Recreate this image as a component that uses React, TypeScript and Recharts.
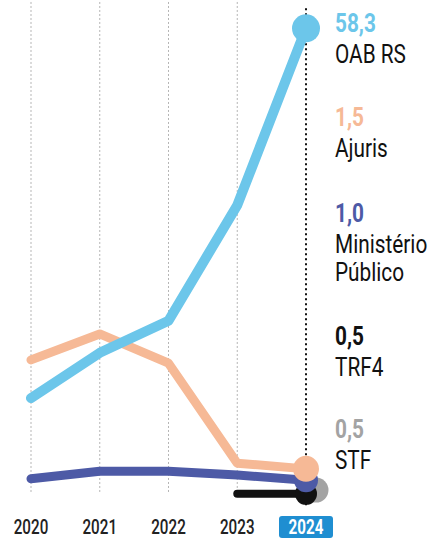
import { LineChart, Line, XAxis, YAxis, ReferenceLine } from "recharts";

const years = ["2020", "2021", "2022", "2023", "2024"];
const oabRs = [21.6, 31.2, 38.0, 62.5, 100];
const ajuris = [29.7, 35.2, 29.0, 7.8, 6.6];
const ministerio = [4.5, 6.1, 6.1, 5.3, 4.2];
const trf4 = [null, null, null, 1.3, 1.3];
const stf = [null, null, null, null, 2.1];

const labelValues = ["58,3", "1,5", "1,0", "0,5", "0,5"];
const labelNames = [["OAB RS"], ["Ajuris"], ["Ministério", "Público"], ["TRF4"], ["STF"]];
const labelColors = ["#6cc6ea", "#f6b996", "#4d5aa6", "#111111", "#a3a3a3"];

const COLORS = {
  oab: "#6cc6ea",
  ajuris: "#f6b996",
  mp: "#4d5aa6",
  trf4: "#111111",
  stf: "#a3a3a3",
};

const data = years.map((year, i) => ({
  year,
  oab: oabRs[i],
  ajuris: ajuris[i],
  mp: ministerio[i],
  trf4: trf4[i],
  stf: stf[i],
}));

const FONT = "Roboto, 'Noto Sans', sans-serif";
const LAST = years.length - 1;

// only the last year gets a marker
function endDot(color: string, r: number, dx = 0) {
  return (props: any) => {
    const { cx, cy, index } = props;
    if (index !== LAST || cy == null) return <g key={`d-${index}`} />;
    return <circle key={`d-${index}`} cx={cx + dx} cy={cy} r={r} fill={color} />;
  };
}

function YearTick({ x, y, payload }: any) {
  const last = payload.value === years[LAST];
  return (
    <g transform={`translate(${x},${y})`}>
      {last && <rect x={-27} y={8} width={54} height={22} rx={3} fill="#1f8ed1" />}
      <text
        transform="scale(0.76,1)"
        x={0}
        y={26}
        textAnchor="middle"
        fontFamily={FONT}
        fontSize={20}
        fontWeight={last ? 700 : 500}
        fill={last ? "#ffffff" : "#222222"}
      >
        {payload.value}
      </text>
    </g>
  );
}

const valueY = [32, 126, 222, 345, 438];

export default function App() {
  return (
    <div style={{ position: "absolute", left: 0, top: 0, width: 429, height: 539, background: "#fff" }}>
      <LineChart width={429} height={539} data={data} margin={{ top: 0, right: 123, bottom: 0, left: 31 }}>
        <XAxis
          dataKey="year"
          axisLine={false}
          tickLine={false}
          height={39}
          interval={0}
          tick={<YearTick />}
        />
        <YAxis hide domain={[0, 106]} />
        {years.slice(0, LAST).map((yr) => (
          <ReferenceLine
            key={yr}
            segment={[{ x: yr, y: 1.7 }, { x: yr, y: 106 }]}
            stroke="#b5b5b5"
            strokeDasharray="2 2"
            strokeWidth={1}
          />
        ))}
        <ReferenceLine
          segment={[{ x: years[LAST], y: -1.1 }, { x: years[LAST], y: 104.5 }]}
          stroke="#111"
          strokeDasharray="2 3"
          strokeWidth={2}
          ifOverflow="visible"
        />
        <Line dataKey="stf" stroke={COLORS.stf} strokeWidth={8} dot={endDot(COLORS.stf, 12.5, 10)} isAnimationActive={false} />
        <Line dataKey="trf4" stroke={COLORS.trf4} strokeWidth={8} strokeLinecap="round" dot={endDot(COLORS.trf4, 11)} isAnimationActive={false} />
        <Line dataKey="mp" stroke={COLORS.mp} strokeWidth={9} strokeLinecap="round" strokeLinejoin="round" dot={endDot(COLORS.mp, 12)} isAnimationActive={false} />
        <Line dataKey="ajuris" stroke={COLORS.ajuris} strokeWidth={9} strokeLinecap="round" strokeLinejoin="round" dot={endDot(COLORS.ajuris, 13)} isAnimationActive={false} />
        <Line dataKey="oab" stroke={COLORS.oab} strokeWidth={10} strokeLinecap="round" strokeLinejoin="round" dot={endDot(COLORS.oab, 14)} isAnimationActive={false} />
      </LineChart>
      <svg width={429} height={539} style={{ position: "absolute", left: 0, top: 0, pointerEvents: "none" }}>
        {labelValues.map((v, i) => (
          <g key={v + i} transform={`translate(335,${valueY[i]}) scale(0.8,1)`}>
            <text x={0} y={0} fontFamily={FONT} fontSize={26} fontWeight={700} fill={labelColors[i]}>
              {v}
            </text>
            {labelNames[i].map((n, j) => (
              <text key={n} x={0} y={31 + j * 28} fontFamily={FONT} fontSize={26} fill="#111">
                {n}
              </text>
            ))}
          </g>
        ))}
      </svg>
    </div>
  );
}
